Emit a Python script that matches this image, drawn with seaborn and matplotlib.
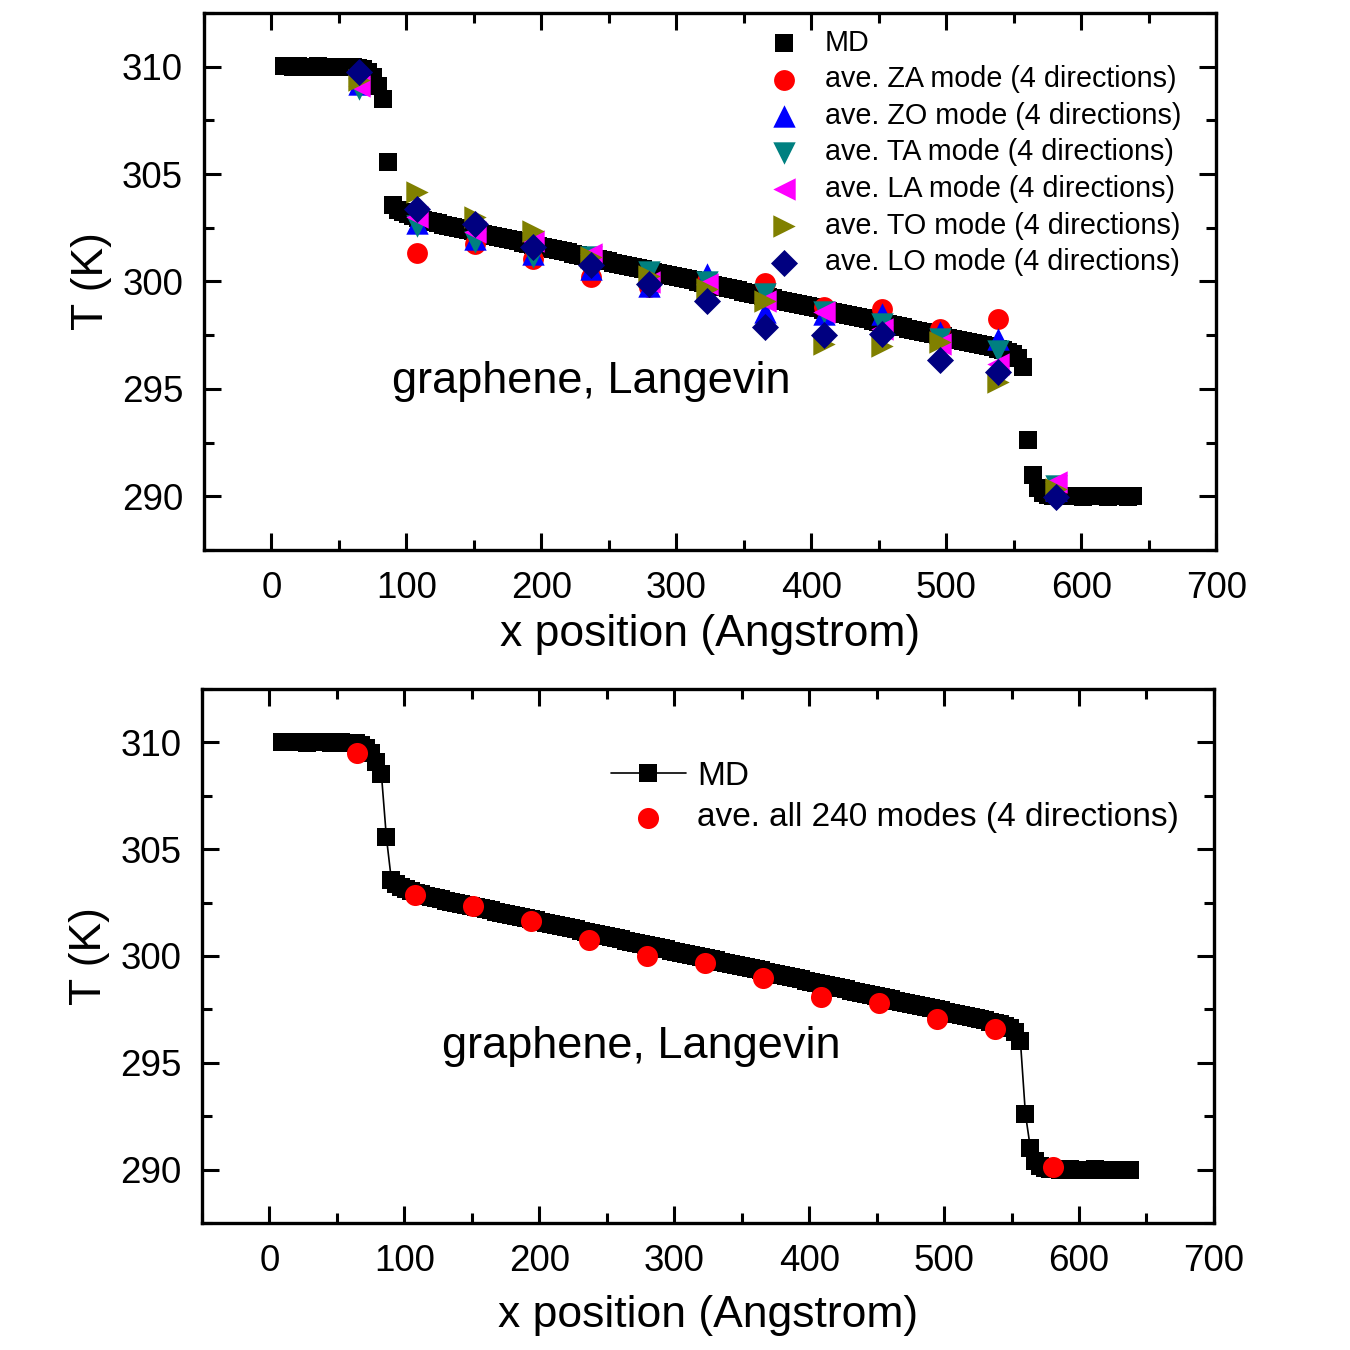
import numpy as np
import pandas as pd
import matplotlib
matplotlib.use('Agg')
import matplotlib.pyplot as plt
import seaborn as sns
from matplotlib.ticker import MultipleLocator

sns.set_theme(style='ticks')
plt.rcParams['font.family'] = ['Liberation Sans', 'DejaVu Sans']
plt.rcParams['axes.unicode_minus'] = False
plt.rcParams.update({
    'text.color': 'black',
    'axes.labelcolor': 'black',
    'xtick.color': 'black',
    'ytick.color': 'black',
})

# MD temperature profile (bin centres, Angstrom) and temperatures (K)
md_x = np.linspace(9.0, 638.0, 171)
md_T = [
    310.02, 310.01, 310.00, 310.01, 310.00, 309.99, 310.00, 310.01, 310.00, 310.00,
    309.99, 310.00, 310.00, 309.98, 309.97, 309.95, 309.88, 309.75, 309.50, 309.10,
    308.50, 305.55, 303.55, 303.35, 303.22, 303.12, 303.03, 302.95, 302.88, 302.81,
    302.75, 302.70, 302.65, 302.59, 302.54, 302.49, 302.44, 302.39, 302.33, 302.28,
    302.23, 302.18, 302.13, 302.07, 302.02, 301.97, 301.92, 301.87, 301.81, 301.76,
    301.71, 301.66, 301.61, 301.55, 301.50, 301.45, 301.40, 301.35, 301.29, 301.24,
    301.19, 301.14, 301.09, 301.03, 300.98, 300.93, 300.88, 300.83, 300.77, 300.72,
    300.67, 300.62, 300.57, 300.51, 300.46, 300.41, 300.36, 300.31, 300.25, 300.20,
    300.15, 300.10, 300.05, 299.99, 299.94, 299.89, 299.84, 299.79, 299.73, 299.68,
    299.63, 299.58, 299.53, 299.47, 299.42, 299.37, 299.32, 299.27, 299.21, 299.16,
    299.11, 299.06, 299.01, 298.95, 298.90, 298.85, 298.80, 298.75, 298.69, 298.64,
    298.59, 298.54, 298.49, 298.43, 298.38, 298.33, 298.28, 298.23, 298.17, 298.12,
    298.07, 298.02, 297.97, 297.91, 297.86, 297.81, 297.76, 297.71, 297.65, 297.60,
    297.55, 297.50, 297.45, 297.39, 297.34, 297.29, 297.24, 297.19, 297.13, 297.08,
    297.03, 296.98, 296.93, 296.87, 296.80, 296.72, 296.62, 296.45, 296.00, 292.60,
    291.00, 290.40, 290.15, 290.05, 290.02, 290.01, 290.00, 290.00, 290.01, 290.00,
    289.99, 290.00, 290.00, 290.01, 290.00, 289.99, 290.00, 290.00, 290.00, 289.99,
    290.00,
]

# positions of the mode-averaged points
mode_x = [65, 108, 151, 194, 237, 280, 323, 366, 409, 452, 495, 538, 581]

za = [309.40, 301.33, 301.75, 301.05, 300.20, 299.74, 300.00, 299.95, 298.81, 298.72, 297.80, 298.25, 290.30]
zo = [309.20, 302.70, 301.98, 301.28, 300.58, 299.80, 300.35, 298.58, 298.50, 298.50, 297.65, 297.30, 290.30]
ta = [308.97, 302.60, 301.84, 301.14, 301.14, 300.44, 299.98, 299.42, 298.60, 298.00, 297.30, 296.76, 290.47]
la = [309.10, 303.00, 302.30, 301.90, 301.28, 299.98, 299.90, 299.10, 298.56, 297.80, 297.10, 296.15, 290.65]
to = [309.40, 304.17, 303.00, 302.35, 301.14, 300.26, 299.65, 299.10, 297.10, 297.00, 297.18, 295.30, 290.33]
lo = [309.77, 303.38, 302.68, 301.60, 300.77, 299.88, 299.10, 297.88, 297.50, 297.55, 296.34, 295.78, 289.95]

all_modes = [309.48, 302.83, 302.32, 301.62, 300.73, 299.98, 299.65, 298.95, 298.10, 297.82, 297.07, 296.56, 290.14]

md = pd.DataFrame({'x': md_x, 'T': md_T})

mode_styles = [
    ('ave. ZA mode (4 directions)', za, 'o', '#FF0000', 225),
    ('ave. ZO mode (4 directions)', zo, '^', '#0000FF', 260),
    ('ave. TA mode (4 directions)', ta, 'v', '#008080', 260),
    ('ave. LA mode (4 directions)', la, '<', '#FF00FF', 260),
    ('ave. TO mode (4 directions)', to, '>', '#808000', 260),
    ('ave. LO mode (4 directions)', lo, 'D', '#000080', 190),
]


def style_axes(ax, xpad):
    ax.set_xlim(-50, 700)
    ax.set_ylim(287.5, 312.5)
    ax.xaxis.set_major_locator(MultipleLocator(100))
    ax.xaxis.set_minor_locator(MultipleLocator(50))
    ax.yaxis.set_major_locator(MultipleLocator(5))
    ax.yaxis.set_minor_locator(MultipleLocator(2.5))
    ax.tick_params(which='both', direction='in', top=True, right=True, width=2.2)
    ax.tick_params(which='major', length=12, labelsize=26.5, pad=15)
    ax.tick_params(which='minor', length=7)
    for sp in ax.spines.values():
        sp.set_visible(True)
        sp.set_linewidth(2.4)
        sp.set_color('black')
    ax.set_xlabel('x position (Angstrom)', fontsize=32, labelpad=xpad)
    ax.set_ylabel('T (K)', fontsize=32, labelpad=7)


fig = plt.figure(figsize=(13.5, 13.5), dpi=100)
ax1 = fig.add_axes([0.151, 0.5926, 0.750, 0.3978])
ax2 = fig.add_axes([0.1496, 0.0941, 0.7496, 0.3956])

# top panel
sns.scatterplot(data=md, x='x', y='T', marker='s', color='black', s=170,
                linewidth=0, label='MD', ax=ax1, zorder=2)
for name, vals, mk, col, size in mode_styles:
    df = pd.DataFrame({'x': mode_x, 'T': vals})
    sns.scatterplot(data=df, x='x', y='T', marker=mk, color=col, s=size,
                    linewidth=0, label=name, ax=ax1, zorder=3)
style_axes(ax1, 6)
ax1.text(89, 295.36, 'graphene, Langevin', fontsize=32.5, va='center', ha='left')
ax1.legend(loc='upper left', bbox_to_anchor=(0.545, 0.971), frameon=False,
           fontsize=20.7, handlelength=2.0, handletextpad=0.4, labelspacing=0.30,
           borderpad=0, borderaxespad=0)

# bottom panel
sns.lineplot(data=md, x='x', y='T', marker='s', color='black', markersize=13,
             markeredgewidth=0, linewidth=1.2, label='MD', ax=ax2, zorder=2)
df_all = pd.DataFrame({'x': mode_x, 'T': all_modes})
sns.scatterplot(data=df_all, x='x', y='T', marker='o', color='#FF0000', s=230,
                linewidth=0, label='ave. all 240 modes (4 directions)', ax=ax2, zorder=3)
style_axes(ax2, 12)
ax2.text(128, 295.76, 'graphene, Langevin', fontsize=32.5, va='center', ha='left')
ax2.legend(loc='upper left', bbox_to_anchor=(0.404, 0.865), frameon=False,
           fontsize=24, handlelength=2.25, handletextpad=0.33, labelspacing=0.31,
           borderpad=0, borderaxespad=0)

fig.savefig('out.png', dpi=100, facecolor='white')
